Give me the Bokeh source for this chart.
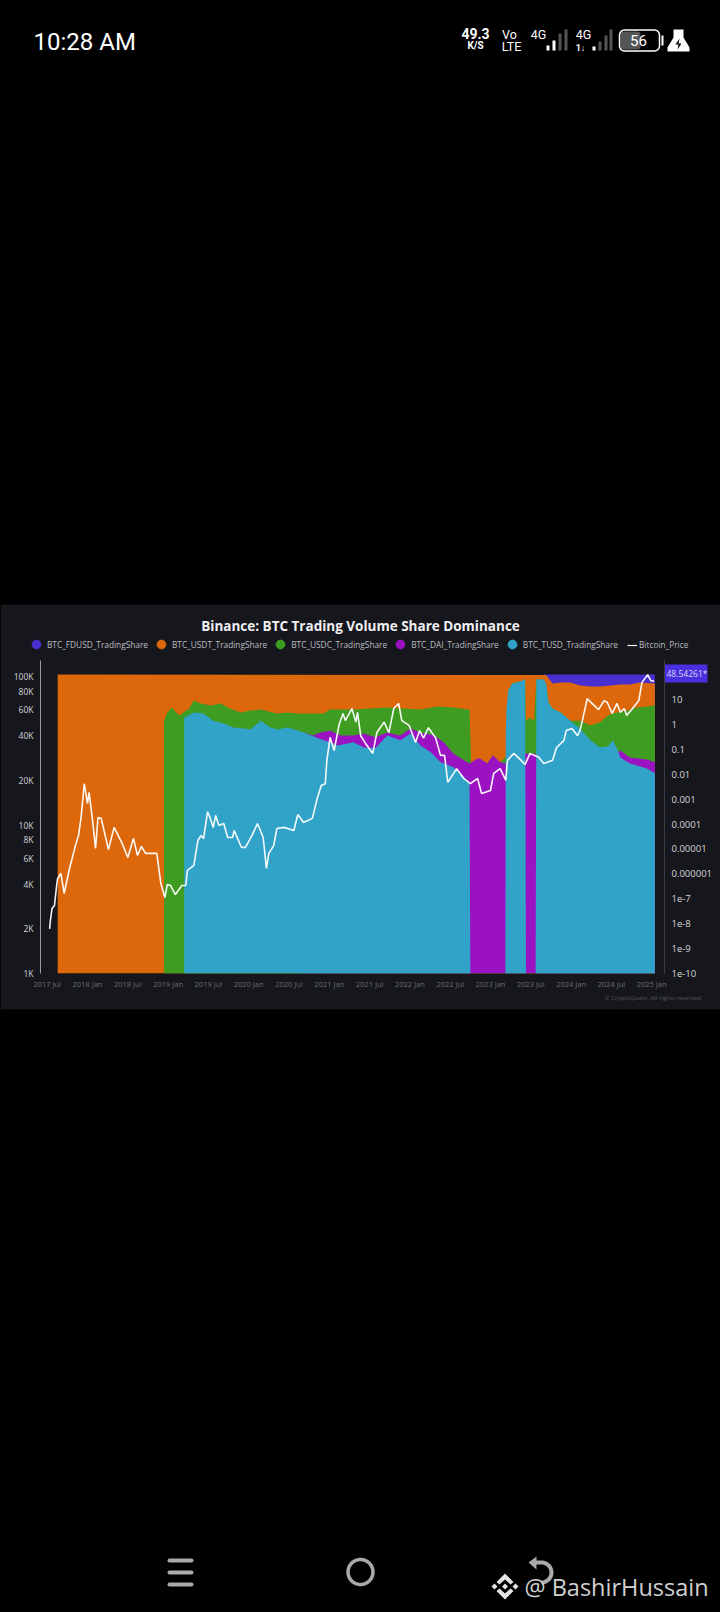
from bokeh.embed import file_html
from bokeh.resources import INLINE
from bokeh.layouts import column
from bokeh.plotting import figure
from bokeh.models import (BoxAnnotation, FixedTicker, Label, Legend, LegendItem, LinearAxis, LogAxis,
                          LogScale, PolyAnnotation, Range1d)
import numpy as np

TITLE = "Binance: BTC Trading Volume Share Dominance"
x_ticks = [2017.5, 2018.0, 2018.5, 2019.0, 2019.5, 2020.0, 2020.5, 2021.0, 2021.5, 2022.0,
           2022.5, 2023.0, 2023.5, 2024.0, 2024.5, 2025.0]
x_labels = ["2017 Jul", "2018 Jan", "2018 Jul", "2019 Jan", "2019 Jul", "2020 Jan", "2020 Jul",
            "2021 Jan", "2021 Jul", "2022 Jan", "2022 Jul", "2023 Jan", "2023 Jul", "2024 Jan",
            "2024 Jul", "2025 Jan"]
price_ticks = [1000, 2000, 4000, 6000, 8000, 10000, 20000, 40000, 60000, 80000, 100000]
price_labels = ["1K", "2K", "4K", "6K", "8K", "10K", "20K", "40K", "60K", "80K", "100K"]
share_ticks = [10, 1, 0.1, 0.01, 0.001, 0.0001, 0.00001, 0.000001, 1e-7, 1e-8, 1e-9, 1e-10]
share_labels = ["10", "1", "0.1", "0.01", "0.001", "0.0001", "0.00001", "0.000001", "1e-7",
                "1e-8", "1e-9", "1e-10"]

FLOOR = 1e-10

# Cumulative share (%) read against the right axis; each band is drawn from the floor up to its top.
fdusd_dates = [2023.66, 2025.04]
fdusd_top = [100, 100]

usdt_dates = [2017.63, 2023.69, 2023.77, 2023.87, 2023.99, 2024.11, 2024.24, 2024.36, 2024.49,
              2024.61, 2024.73, 2024.85, 2025.04]
usdt_top = [100, 96, 43.5, 47.7, 47.7, 36, 33, 33, 36, 39.7, 39.7, 47.7, 43.5]

usdc_dates = [2018.95, 2018.99, 2019.05, 2019.11, 2019.15, 2019.19, 2019.26, 2019.32, 2019.40,
              2019.53, 2019.65, 2019.77, 2019.90, 2020.02, 2020.15, 2020.35, 2020.48, 2020.60,
              2020.77, 2020.93, 2021.01, 2021.14, 2021.30, 2021.51, 2021.72, 2021.92, 2022.13,
              2022.34, 2022.54, 2022.72, 2022.74, 2022.76, 2022.87, 2022.96, 2023.03, 2023.12,
              2023.19, 2023.20, 2023.22, 2023.27, 2023.37, 2023.43, 2023.44, 2023.49, 2023.54,
              2023.57, 2023.66, 2023.69, 2023.72, 2023.77, 2023.87, 2023.99, 2024.11, 2024.24,
              2024.36, 2024.46, 2024.57, 2024.70, 2024.82, 2024.94, 2025.04]
usdc_top = [1.4, 3.0, 4.7, 2.7, 2.3, 3.0, 4.3, 9.0, 6.8, 5.7, 6.8, 4.3, 3.0, 3.6, 3.9, 2.7, 3.0,
            2.7, 2.7, 2.7, 3.9, 3.9, 3.9, 4.3, 4.7, 4.3, 3.9, 5.2, 4.7, 3.9, 3.9, 0.027, 0.043,
            0.027, 0.057, 0.03, 0.05, 0.3, 22.8, 43.5, 52.3, 63, 1.4, 1.9, 1.4, 63, 63, 43.5, 7.5,
            4.3, 3.0, 1.4, 1.4, 0.89, 1.2, 2.3, 3.0, 3.6, 4.7, 5.2, 5.7]

dai_dates = [2020.68, 2020.80, 2020.89, 2021.01, 2021.14, 2021.30, 2021.43, 2021.57, 2021.72,
             2021.88, 2022.01, 2022.13, 2022.30, 2022.42, 2022.54, 2022.67, 2022.74, 2022.84,
             2022.87, 2022.96, 2023.03, 2023.12, 2023.19, 2023.44, 2023.56, 2023.57, 2024.50,
             2024.61, 2024.73, 2024.94, 2025.04]
dai_top = [0.47, 0.36, 0.47, 0.56, 0.36, 0.36, 0.43, 0.30, 0.47, 0.36, 0.68, 0.47, 0.36, 0.19,
           0.068, 0.036, 0.027, 0.043, 0.043, 0.027, 0.057, 0.03, 0.027, 0.068, 0.068, 0.05, 0.05,
           0.09, 0.047, 0.039, 0.03]

tusd_dates = [2019.20, 2019.32, 2019.44, 2019.56, 2019.69, 2019.81, 2019.94, 2020.02, 2020.15,
              2020.27, 2020.36, 2020.48, 2020.61, 2020.68, 2020.80, 2020.93, 2021.01, 2021.10,
              2021.30, 2021.43, 2021.57, 2021.72, 2021.88, 2022.01, 2022.13, 2022.26, 2022.38,
              2022.54, 2022.72, 2022.74, 2022.75, 2023.185, 2023.19, 2023.20, 2023.22, 2023.27,
              2023.37, 2023.42, 2023.43, 2023.44, 2023.56, 2023.57, 2023.66, 2023.69, 2023.72,
              2023.77, 2023.87, 2023.99, 2024.11, 2024.24, 2024.36, 2024.46, 2024.52, 2024.58,
              2024.61, 2024.73, 2024.94, 2025.04]
tusd_top = [1.9, 3.0, 2.7, 1.4, 1.07, 0.74, 0.68, 0.62, 1.4, 0.74, 0.62, 0.74, 0.56, 0.47, 0.33,
            0.23, 0.19, 0.143, 0.19, 0.119, 0.109, 0.36, 0.23, 0.43, 0.143, 0.075, 0.03, 0.019,
            0.0055, 0.0042, 1e-10, 1e-10, 0.56, 5.0, 22.8, 43.5, 52.3, 63, 63, 1e-10, 1e-10, 63,
            63, 43.5, 7.5, 4.3, 3.0, 1.4, 0.68, 0.23, 0.119, 0.131, 0.23, 0.09, 0.047, 0.027,
            0.017, 0.011]

price_dates = [2017.53, 2017.54, 2017.56, 2017.59, 2017.62, 2017.63, 2017.67, 2017.71, 2017.78,
               2017.81, 2017.85, 2017.89, 2017.92, 2017.96, 2018.00, 2018.02, 2018.06, 2018.10,
               2018.13, 2018.17, 2018.26, 2018.33, 2018.43, 2018.50, 2018.57, 2018.62, 2018.67,
               2018.72, 2018.86, 2018.91, 2018.96, 2018.99, 2019.03, 2019.09, 2019.17, 2019.22,
               2019.24, 2019.32, 2019.37, 2019.41, 2019.44, 2019.49, 2019.52, 2019.56, 2019.59,
               2019.63, 2019.69, 2019.74, 2019.80, 2019.82, 2019.91, 2019.96, 2020.04, 2020.11,
               2020.18, 2020.22, 2020.25, 2020.31, 2020.35, 2020.44, 2020.56, 2020.61, 2020.68,
               2020.79, 2020.85, 2020.90, 2020.95, 2020.97, 2021.01, 2021.06, 2021.12, 2021.17,
               2021.20, 2021.28, 2021.33, 2021.35, 2021.39, 2021.45, 2021.54, 2021.59, 2021.68,
               2021.74, 2021.80, 2021.86, 2021.90, 2021.99, 2022.07, 2022.12, 2022.17, 2022.23,
               2022.32, 2022.38, 2022.43, 2022.47, 2022.58, 2022.67, 2022.75, 2022.84, 2022.89,
               2023.00, 2023.04, 2023.12, 2023.19, 2023.21, 2023.29, 2023.38, 2023.43, 2023.49,
               2023.60, 2023.66, 2023.77, 2023.82, 2023.91, 2023.94, 2024.01, 2024.08, 2024.11,
               2024.14, 2024.20, 2024.26, 2024.34, 2024.41, 2024.45, 2024.51, 2024.57, 2024.61,
               2024.66, 2024.69, 2024.76, 2024.84, 2024.88, 2024.95, 2024.99, 2025.03]
price = [2000, 2280, 2740, 2870, 4040, 4370, 4720, 3460, 5180, 5970, 7270, 8550, 11250, 19000,
         14000, 16600, 11100, 6950, 11250, 11100, 6850, 9650, 7530, 6050, 8130, 6250, 7180, 6450,
         6450, 4040, 3250, 3970, 3920, 3400, 3920, 3920, 4950, 5350, 7880, 8500, 8100, 12300,
         11250, 9650, 11600, 9950, 10250, 8250, 8250, 9200, 7080, 7080, 8500, 10250, 8250, 5100,
         6450, 7270, 9480, 9650, 9200, 11800, 10400, 11100, 15100, 18500, 19000, 27300, 39000,
         31800, 47000, 56500, 50600, 61000, 49400, 57500, 40000, 35500, 30400, 42000, 49400,
         42000, 61000, 66000, 50600, 47000, 36000, 43300, 38600, 45300, 38600, 29500, 29500,
         19400, 24000, 20600, 19000, 20600, 16300, 17100, 22300, 24000, 20000, 27300, 30400,
         27300, 25600, 30400, 28600, 26000, 27300, 33300, 37100, 43300, 44800, 40000, 43300,
         50600, 71000, 66000, 60000, 69000, 67000, 56500, 66000, 57500, 61000, 54800, 60800,
         69000, 91500, 103000, 94000, 93000]

legend_names = ["BTC_FDUSD_TradingShare", "BTC_USDT_TradingShare", "BTC_USDC_TradingShare",
                "BTC_DAI_TradingShare", "BTC_TUSD_TradingShare"]

C_FDUSD, C_USDT, C_USDC, C_DAI, C_TUSD = "#4a2fd0", "#dd680c", "#3f9c22", "#9a12c2", "#31a3c8"
PANEL = "#16171d"
W, H = 720, 1612
NAN = float("nan")

# Backdrop figure: frame fills the canvas, holds everything around the chart
bg = figure(width=W, height=H, output_backend="svg", toolbar_location=None, x_axis_type=None,
            y_axis_type=None, x_range=Range1d(0, W), y_range=Range1d(0, H), min_border=0,
            background_fill_color="#000000", border_fill_color="#000000", outline_line_color=None,
            frame_align=False)
bg.grid.visible = False


def box(l, r, t, b, color, level="annotation", radius=0, line=None, lw=0):
    bg.add_layout(BoxAnnotation(left=l, right=r, top=t, bottom=b, left_units="canvas",
                                right_units="canvas", top_units="canvas", bottom_units="canvas",
                                fill_color=color, fill_alpha=1.0 if color else 0, line_color=line,
                                line_alpha=1.0, line_width=lw, level=level, border_radius=radius))


def txt(x, y, s, size, color="#ffffff", font="Roboto", style="normal", align="left"):
    bg.add_layout(Label(x=x, y=y, x_units="canvas", y_units="canvas", text=s,
                        text_font=font, text_font_size=f"{size}px", text_color=color,
                        text_font_style=style, text_align=align, text_baseline="middle"))


def poly(xs, ys, color, line=None, lw=0):
    bg.add_layout(PolyAnnotation(xs=list(xs), ys=list(ys), xs_units="canvas",
                                 ys_units="canvas", fill_color=color, fill_alpha=1.0 if color else 0,
                                 line_color=line, line_alpha=1.0, line_width=lw, level="annotation"))


box(0, W, 604, 1009, PANEL, level="underlay")

# Chart figure, laid over the backdrop with a transparent border
p = figure(width=W, height=349, output_backend="svg", toolbar_location=None,
           x_axis_type=None, y_axis_type=None,
           x_range=Range1d(2017.417, 2025.159), y_range=Range1d(1000, 128500),
           min_border_left=40, min_border_right=56, min_border_top=8, min_border_bottom=28,
           background_fill_color=None, border_fill_color=None, outline_line_color=None,
           frame_align=False)
p.margin = (-(H - 652), 0, 0, 0)
p.y_scale = LogScale()
p.grid.visible = False
p.extra_y_ranges["share"] = Range1d(FLOOR, 365)
p.extra_y_scales["share"] = LogScale()


def band(dates, top, color):
    p.varea(x=dates, y1=[FLOOR] * len(dates), y2=top, fill_color=color, y_range_name="share")


band(fdusd_dates, fdusd_top, C_FDUSD)
band(usdt_dates, usdt_top, C_USDT)
band(usdc_dates, usdc_top, C_USDC)
band(dai_dates, dai_top, C_DAI)
band(tusd_dates, tusd_top, C_TUSD)
p.line(price_dates, price, line_color="#ffffff", line_width=1.6, line_alpha=0.95)

left = LogAxis(ticker=FixedTicker(ticks=price_ticks),
               major_label_overrides=dict(zip(price_ticks, price_labels)),
               major_tick_line_color=None, minor_tick_line_color=None,
               major_tick_out=0, major_tick_in=0,
               axis_line_color="#9a9a9e", axis_line_width=1, major_label_standoff=7,
               major_label_text_color="#d6d6d8", major_label_text_font="Open Sans",
               major_label_text_font_size="8.5px")
p.add_layout(left, "left")
right = LogAxis(y_range_name="share", ticker=FixedTicker(ticks=share_ticks),
                major_label_overrides=dict(zip(share_ticks, share_labels)),
                major_tick_line_color=None, minor_tick_line_color=None,
                major_tick_out=0, major_tick_in=0,
                axis_line_color="#3c3d44", axis_line_width=1, major_label_standoff=7,
                major_label_text_color="#d6d6d8", major_label_text_font="Open Sans",
                major_label_text_font_size="9.5px")
p.add_layout(right, "right")
bottom = LinearAxis(ticker=FixedTicker(ticks=x_ticks),
                    major_label_overrides=dict(zip(x_ticks, x_labels)),
                    major_tick_line_color=None, minor_tick_line_color=None, axis_line_color=None,
                    major_tick_out=0, major_tick_in=0,
                    major_label_standoff=5, major_label_text_color="#6a6b70",
                    major_label_text_font="Open Sans", major_label_text_font_size="7.5px")
p.add_layout(bottom, "below")

# legends (their keys live on the backdrop)
cols = [C_FDUSD, C_USDT, C_USDC, C_DAI, C_TUSD]
items = []
for n, col in zip(legend_names, cols):
    r = bg.scatter(x=[NAN], y=[NAN], marker="circle", fill_color=col, line_color=col)
    items.append(LegendItem(label=n, renderers=[r]))
lg = Legend(items=items, orientation="horizontal", location=(25, 957), padding=0, margin=0,
            glyph_width=22, glyph_height=22, label_standoff=-3, spacing=2,
            background_fill_alpha=0, border_line_color=None, label_text_color="#bdbdc0",
            label_text_font="Open Sans", label_text_font_size="8.3px")
bg.add_layout(lg, "center")
key = bg.line(x=[NAN, NAN], y=[NAN, NAN], line_color="#ffffff", line_width=1.2)
lg2 = Legend(items=[LegendItem(label="Bitcoin_Price", renderers=[key])],
             orientation="horizontal", location=(627, 962), padding=0, margin=0, glyph_width=10,
             glyph_height=8, label_standoff=2, background_fill_alpha=0, border_line_color=None,
             label_text_color="#bdbdc0", label_text_font="Open Sans",
             label_text_font_size="8.3px")
bg.add_layout(lg2, "center")

txt(360, 625, TITLE, 13.5, "#f0f0f2", "Open Sans", "bold", "center")
box(664, 707, 664, 682, "#4a2fe0")
txt(666, 673, "48.54261*", 8.5, "#d8d8f4", "Open Sans")
txt(702, 997, "\u00a9 CryptoQuant. All rights reserved.", 6, "#55565b", "Open Sans", align="right")

# status bar
txt(33, 41, "10:28 AM", 24, "#ffffff")
txt(475, 33, "49.3", 14, "#ffffff", style="bold", align="center")
txt(475, 45, "K/S", 10, "#ffffff", style="bold", align="center")
txt(509, 34, "Vo", 12.5, "#ffffff", align="center")
txt(511, 46, "LTE", 12.5, "#ffffff", align="center")
txt(538, 34, "4G", 12.5, "#ffffff", align="center")
txt(583, 34, "4G", 12.5, "#ffffff", align="center")
txt(580, 47, "1\u2193", 9, "#ffffff", style="bold", align="center")
for x0, top, col in [(546, 45, "#ffffff"), (552, 40, "#ffffff"), (558, 33, "#555555"), (564, 29, "#555555"),
                     (592, 46, "#ffffff"), (598, 41, "#555555"), (604, 35, "#555555"), (609, 29, "#555555")]:
    box(x0, x0 + 3, top, 50, col)
box(620, 640, 31, 49, "#555555", radius=3)
box(619, 659, 29.5, 50.5, None, radius=5, line="#ffffff", lw=1.5)
box(661, 663, 35, 45, "#ffffff")
txt(638, 40, "56", 15, "#ffffff", align="center")
poly([673, 683, 683, 689, 689, 667, 667, 673], [29, 29, 37, 47, 51, 51, 47, 37], "#ffffff")
poly([679, 675, 678, 677, 681, 678], [38, 44, 44, 49, 43, 43], "#000000")

# navigation bar
for yy in (1560, 1572, 1584):
    box(167, 193, yy - 2, yy + 2, "#aaaaaa", radius=2)
ang = np.linspace(0, 2 * np.pi, 60)
poly(360 + 12.5 * np.cos(ang), 1571.5 + 12.5 * np.sin(ang), None, "#aaaaaa", 3.5)
arc = np.linspace(-np.pi / 2, np.pi / 2, 24)
ax2 = list(541 + 12 * np.cos(arc)) + [541] + list(541 + 8 * np.cos(arc[::-1])) + [541, 536, 536, 528, 536, 536, 541]
ay2 = list(1572 + 12 * np.sin(arc)) + [1580] + list(1572 + 8 * np.sin(arc[::-1])) + [1564, 1564, 1569, 1562, 1556, 1560, 1560]
poly(ax2, ay2, "#aaaaaa")

# watermark
txt(524, 1586, "@ BashirHussain", 23.5, "#d0d0d0", "Open Sans")
LOGO = "#e4e4e4"
chev_x = [504.5, 513, 510, 504.5, 499, 496]
chev_y = [1573, 1581.5, 1584, 1579, 1584, 1581.5]
poly(chev_x, chev_y, LOGO)
poly(chev_x, [2 * 1586 - v for v in chev_y], LOGO)
for cx, r in [(504.5, 3), (494, 3), (515, 3)]:
    poly([cx - r, cx, cx + r, cx], [1586, 1586 - r, 1586, 1586 + r], LOGO)

page = column(bg, p, spacing=0)
html = file_html(page, INLINE)
html = html.replace("</head>", "<style>html,body{background:#000}</style></head>", 1)
open("out.html", "w").write(html)
